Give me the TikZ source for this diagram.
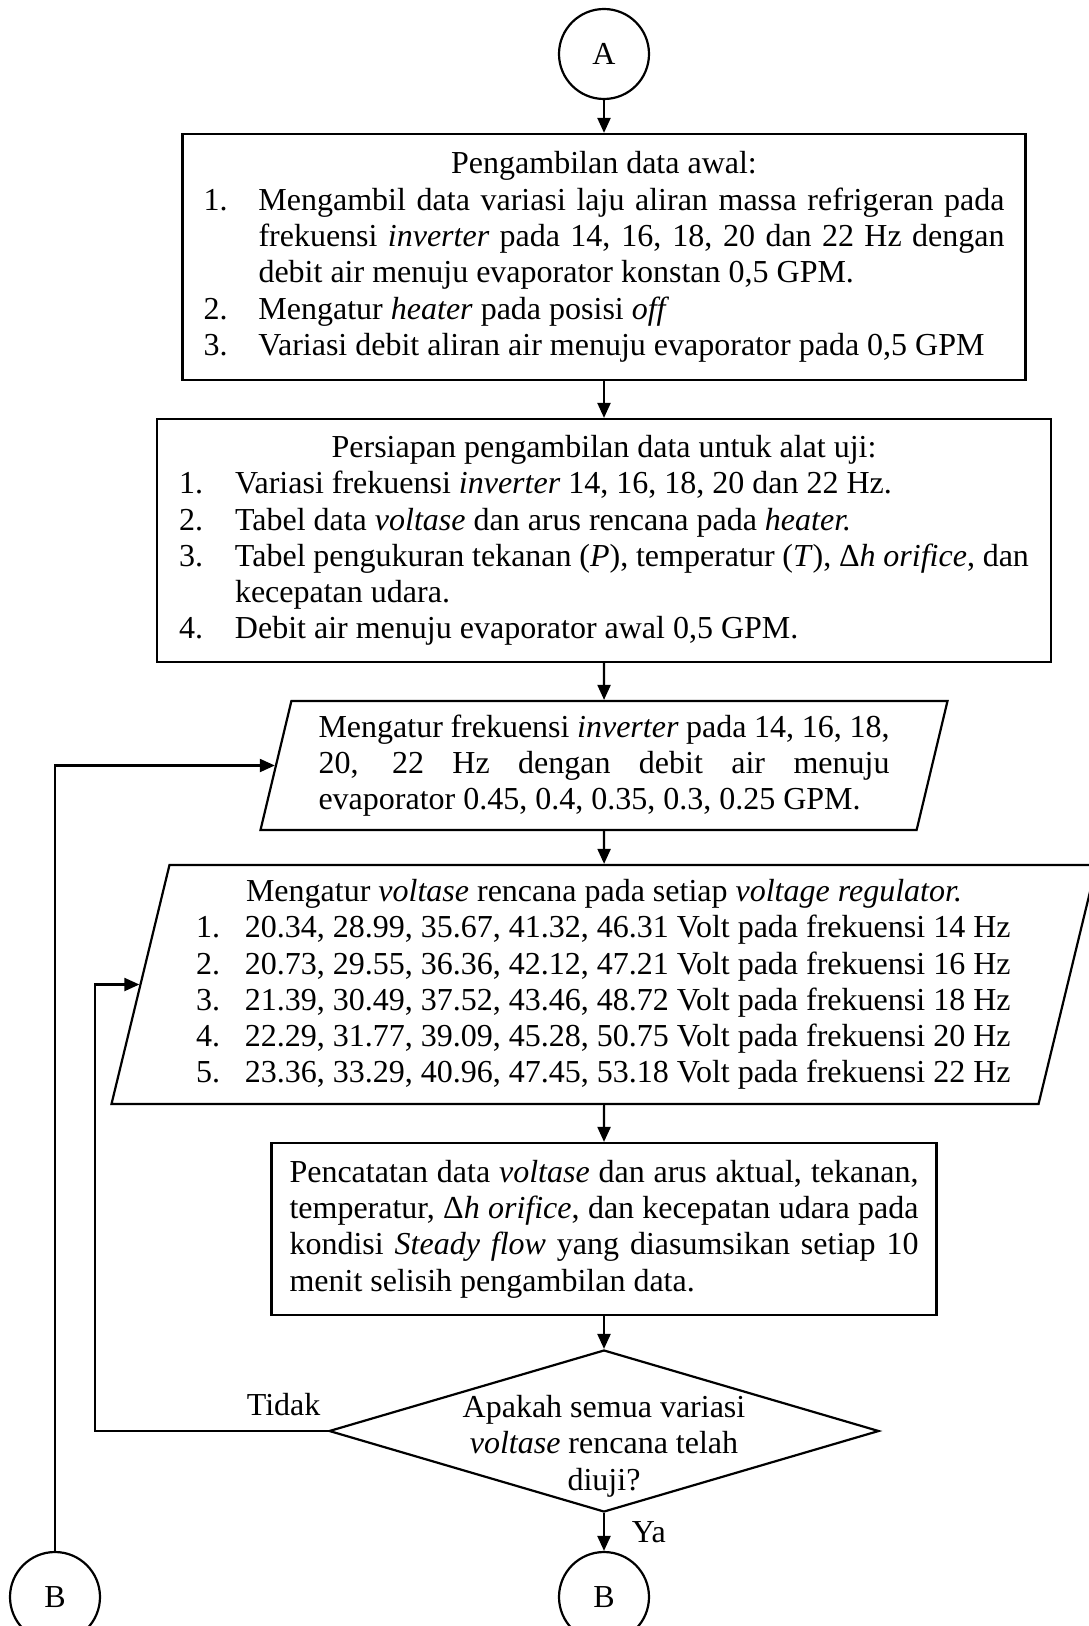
\documentclass[tikz,border=0pt]{standalone}
\usepackage{fontspec}
\setmainfont{Liberation Serif}
\usetikzlibrary{shapes.geometric, positioning, arrows.meta}
\setlength{\parindent}{0pt}
\hyphenpenalty=10000
\exhyphenpenalty=10000
\newcommand{\itm}[2][27.5pt]{\par\hangindent=#1\hangafter=1\noindent\makebox[#1][l]{#2}\ignorespaces}

\begin{document}
\begin{tikzpicture}[>={Triangle[length=7.5pt,width=6.5pt]},line width=1.1pt,node distance=100pt,on grid,
    every node/.style={font=\fontsize{16}{18.15}\selectfont},
    conn/.style={draw,circle,minimum size=45pt,inner sep=0pt},
    proc/.style={draw,rectangle,inner sep=0pt,align=justify},
    io/.style={draw,trapezium,trapezium left angle=76,trapezium right angle=104,
      trapezium stretches body,inner xsep=0pt,inner ysep=5.5pt,align=justify},
    decision/.style={draw,diamond,minimum width=275pt,minimum height=81pt,inner sep=0pt}]
    \useasboundingbox (0,0) rectangle (544pt,-813pt);

    \node[conn] (A) at (302pt,-27pt) {A};
    \node[proc,text width=400.5pt,minimum width=421.5pt,minimum height=123pt] (awal) [below=101.5pt of A] {%
      {\centering Pengambilan data awal:\par}
      \itm{1.}Mengambil data variasi laju aliran massa refrigeran pada\linebreak
      frekuensi \textit{inverter} pada 14, 16, 18, 20 dan 22 Hz dengan\linebreak
      debit air menuju evaporator konstan 0,5 GPM.
      \itm{2.}Mengatur \textit{heater} pada posisi \textit{off}
      \itm{3.}Variasi debit aliran air menuju evaporator pada 0,5 GPM};
    \node[proc,text width=425pt,minimum width=447pt,minimum height=121.5pt] (siap) [below=141.75pt of awal] {%
      {\centering Persiapan pengambilan data untuk alat uji:\par}
      \itm[28pt]{1.}Variasi frekuensi \textit{inverter} 14, 16, 18, 20 dan 22 Hz.
      \itm[28pt]{2.}Tabel data \textit{voltase} dan arus rencana pada \textit{heater.}
      \itm[28pt]{3.}Tabel pengukuran tekanan (\textit{P}), temperatur (\textit{T}), Δ\textit{h orifice}, dan\linebreak
      kecepatan udara.
      \itm[28pt]{4.}Debit air menuju evaporator awal 0,5 GPM.};
    \node[io,text width=285.5pt,minimum width=343.5pt,minimum height=64.5pt] (frek) [below=112.5pt of siap] {%
      Mengatur frekuensi \textit{inverter} pada 14, 16, 18,\linebreak
      20, 22 Hz dengan debit air menuju\linebreak
      evaporator 0.45, 0.4, 0.35, 0.3, 0.25 GPM.};
    \node[io,text width=408pt,minimum width=492.5pt,minimum height=119.5pt] (volt) [below=109.5pt of frek] {%
      {\centering Mengatur \textit{voltase} rencana pada setiap \textit{voltage regulator.}\par}
      \itm[24.5pt]{1.}20.34, 28.99, 35.67, 41.32, 46.31 Volt pada frekuensi 14 Hz
      \itm[24.5pt]{2.}20.73, 29.55, 36.36, 42.12, 47.21 Volt pada frekuensi 16 Hz
      \itm[24.5pt]{3.}21.39, 30.49, 37.52, 43.46, 48.72 Volt pada frekuensi 18 Hz
      \itm[24.5pt]{4.}22.29, 31.77, 39.09, 45.28, 50.75 Volt pada frekuensi 20 Hz
      \itm[24.5pt]{5.}23.36, 33.29, 40.96, 47.45, 53.18 Volt pada frekuensi 22 Hz};
    \node[proc,text width=314.5pt,minimum width=332.5pt,minimum height=86pt] (catat) [below=122.25pt of volt] {%
      Pencatatan data \textit{voltase} dan arus aktual, tekanan,\linebreak
      temperatur, Δ\textit{h orifice}, dan kecepatan udara pada\linebreak
      kondisi \textit{Steady flow} yang diasumsikan setiap 10\linebreak
      menit selisih pengambilan data.};
    \node[decision,label={[align=center,yshift=-7.5pt]center:Apakah semua variasi\\\textit{voltase} rencana telah\\diuji?}] (cek) [below=101pt of catat] {};
    \node[conn] (B) [below=83pt of cek] {B};
    \node[conn] (Bkiri) [left=274.5pt of B] {B};

    \path[->]
      (A) edge (awal)
      (awal) edge (siap)
      (siap) edge (frek)
      (frek) edge (volt)
      (volt) edge (catat)
      (catat) edge (cek)
      (cek) edge node[right=10pt] {Ya} (B);
    \draw[->] (cek.west) -- node[above,pos=0.19,inner sep=7pt] {Tidak} ([xshift=-116.5pt]cek.west) |- (volt);
    \draw[->] (Bkiri) |- (frek);
\end{tikzpicture}
\end{document}
